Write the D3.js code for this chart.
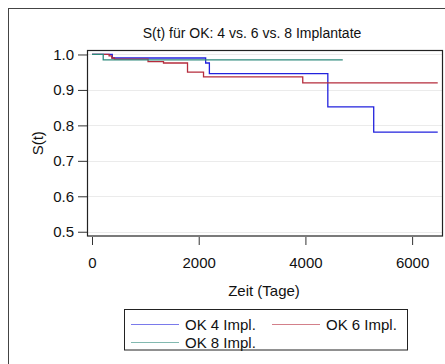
<!DOCTYPE html>
<html>
<head>
<meta charset="utf-8">
<script src="https://cdn.jsdelivr.net/npm/d3@7"></script>
<style>
  body { margin: 0; background: #fff; }
  svg text { font-family: "Liberation Sans", Arial, sans-serif; fill: #111; }
</style>
</head>
<body>
<div class="box"></div>
<script>
const boxWidth = 445
const boxHeight = 364

// Kaplan-Meier steps (time in days, survival)
const ok4Time = [0, 380, 2130, 2200, 4420, 5280, 6480]
const ok4Surv = [1.0, 0.99, 0.976, 0.946, 0.852, 0.781, 0.781]
const ok6Time = [0, 320, 370, 420, 1050, 1340, 1790, 2090, 3950, 6480]
const ok6Surv = [1.0, 0.996, 0.99, 0.987, 0.98, 0.976, 0.95, 0.937, 0.92, 0.92]
const ok8Time = [0, 210, 4700]
const ok8Surv = [1.0, 0.985, 0.985]

const seriesNames = ["OK 4 Impl.", "OK 6 Impl.", "OK 8 Impl."]
const seriesColors = ["#2222dd", "#b52c3c", "#2f8a7c"]
const xTicks = [0, 2000, 4000, 6000]
const yTicks = [0.5, 0.6, 0.7, 0.8, 0.9, 1.0]

const series = [
    { name: seriesNames[0], color: seriesColors[0], pts: ok4Time.map((t, i) => [t, ok4Surv[i]]) },
    { name: seriesNames[1], color: seriesColors[1], pts: ok6Time.map((t, i) => [t, ok6Surv[i]]) },
    { name: seriesNames[2], color: seriesColors[2], pts: ok8Time.map((t, i) => [t, ok8Surv[i]]) }
]

const plotLeft = 87, plotRight = 442, plotTop = 50.5, plotBottom = 236

const x = d3.scaleLinear().domain([-94, 6560]).range([plotLeft, plotRight])
const y = d3.scaleLinear().domain([0.488, 1.0112]).range([plotBottom, plotTop])

const svg = d3.select('.box')
    .append('svg')
    .attr('width', boxWidth)
    .attr('height', boxHeight)

// outer frame (runs off the right and bottom edges)
svg.append('rect')
    .attr('x', 8.5).attr('y', 8.5)
    .attr('width', 480).attr('height', 400)
    .attr('fill', 'none')
    .attr('stroke', '#444')

// grid
svg.append('g')
    .selectAll('line')
    .data(yTicks).enter()
    .append('line')
    .attr('x1', plotLeft).attr('x2', plotRight)
    .attr('y1', d => Math.round(y(d)) + 0.5)
    .attr('y2', d => Math.round(y(d)) + 0.5)
    .attr('stroke', '#ebebeb')

// y axis
const yAxis = svg.append('g')
    .attr('transform', `translate(${plotLeft},0)`)
    .call(d3.axisLeft(y).tickValues(yTicks).tickFormat(d3.format('.1f')).tickSize(9).tickPadding(4))
yAxis.select('.domain').remove()
yAxis.selectAll('line').attr('stroke', '#333')
yAxis.selectAll('text').style('font-size', '15px').attr('fill', '#111')

// x axis (ticks hang below the plot frame)
const xAxis = svg.append('g')
    .attr('transform', `translate(0,${plotBottom + 1})`)
    .call(d3.axisBottom(x).tickValues(xTicks).tickFormat(d3.format('d')).tickSize(8).tickPadding(12))
xAxis.select('.domain').remove()
xAxis.selectAll('line').attr('stroke', '#333')
xAxis.selectAll('text').style('font-size', '15px').attr('fill', '#111')

// curves
const line = d3.line()
    .x(d => x(d[0]))
    .y(d => y(d[1]))
    .curve(d3.curveStepAfter)

svg.append('g')
    .selectAll('path')
    .data(series).enter()
    .append('path')
    .attr('d', d => line(d.pts))
    .attr('fill', 'none')
    .attr('stroke', d => d.color)
    .attr('stroke-width', 1.3)

// plot frame
svg.append('rect')
    .attr('x', plotLeft + 0.5).attr('y', plotTop)
    .attr('width', plotRight - plotLeft).attr('height', plotBottom - plotTop)
    .attr('fill', 'none')
    .attr('stroke', '#222')
    .attr('stroke-width', 1.2)

// titles
svg.append('text')
    .attr('x', 252).attr('y', 38)
    .attr('text-anchor', 'middle')
    .style('font-size', '14px')
    .text('S(t) für OK: 4 vs. 6 vs. 8 Implantate')

svg.append('text')
    .attr('transform', `translate(43,${(plotTop + plotBottom) / 2}) rotate(-90)`)
    .attr('text-anchor', 'middle')
    .style('font-size', '15px')
    .text('S(t)')

svg.append('text')
    .attr('x', 264).attr('y', 296)
    .attr('text-anchor', 'middle')
    .style('font-size', '15px')
    .text('Zeit (Tage)')

// legend
svg.append('rect')
    .attr('x', 124.5).attr('y', 309.5)
    .attr('width', 283).attr('height', 40.5)
    .attr('fill', '#fff')
    .attr('stroke', '#222')

const legendPos = [[131, 324], [272, 324], [131, 342]]
const items = svg.append('g')
    .selectAll('g')
    .data(series).enter()
    .append('g')
    .attr('transform', (d, i) => `translate(${legendPos[i][0]},${legendPos[i][1]})`)

items.append('line')
    .attr('x1', 0).attr('x2', 48)
    .attr('y1', 0.5).attr('y2', 0.5)
    .attr('stroke', d => d.color)
    .attr('stroke-opacity', 0.6)

items.append('text')
    .attr('x', 54).attr('y', 5.5)
    .style('font-size', '15px')
    .text(d => d.name)
</script>
</body>
</html>
